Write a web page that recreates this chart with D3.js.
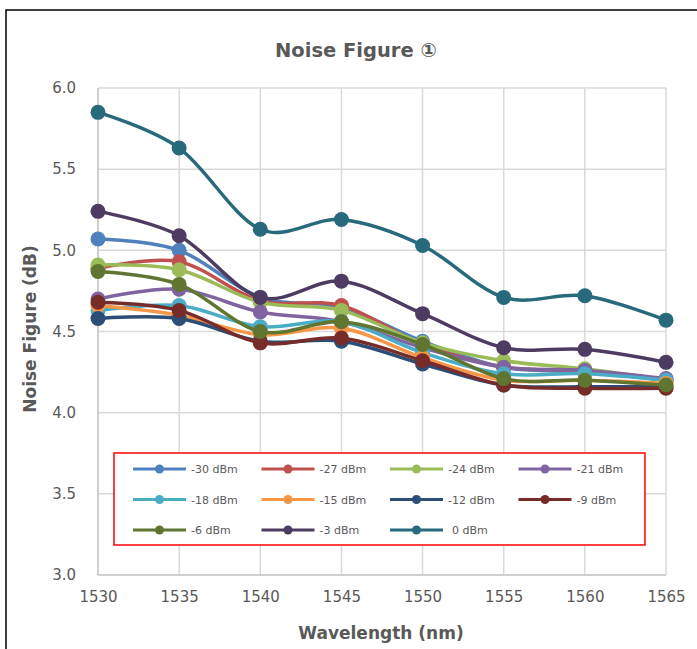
<!DOCTYPE html>
<html><head><meta charset="utf-8">
<script src="https://cdn.jsdelivr.net/npm/d3@7"></script>
<style>html,body{margin:0;padding:0;background:#fff;} svg{display:block;}</style>
</head><body>
<svg id="chart" width="697" height="649"></svg>
<script>
const wavelengths = [1530, 1535, 1540, 1545, 1550, 1555, 1560, 1565];
const seriesNames = ["-30 dBm","-27 dBm","-24 dBm","-21 dBm","-18 dBm","-15 dBm","-12 dBm","-9 dBm","-6 dBm","-3 dBm","0 dBm"];
const seriesColors = ["#4F81BD","#C0504D","#9BBB59","#8064A2","#4BACC6","#F79646","#2C4D75","#772C2A","#5F7530","#4D3B62","#276A7C"];
const nf_m30 = [5.07, 5.00, 4.71, 4.65, 4.44, 4.28, 4.25, 4.20];
const nf_m27 = [4.89, 4.93, 4.69, 4.66, 4.42, 4.28, 4.26, 4.20];
const nf_m24 = [4.91, 4.88, 4.68, 4.63, 4.43, 4.32, 4.27, 4.20];
const nf_m21 = [4.70, 4.76, 4.62, 4.56, 4.40, 4.28, 4.26, 4.21];
const nf_m18 = [4.63, 4.66, 4.53, 4.56, 4.37, 4.24, 4.24, 4.20];
const nf_m15 = [4.66, 4.60, 4.48, 4.52, 4.34, 4.20, 4.20, 4.18];
const nf_m12 = [4.58, 4.58, 4.44, 4.44, 4.30, 4.17, 4.16, 4.16];
const nf_m9  = [4.68, 4.63, 4.43, 4.46, 4.32, 4.17, 4.15, 4.15];
const nf_m6  = [4.87, 4.79, 4.50, 4.56, 4.42, 4.21, 4.20, 4.17];
const nf_m3  = [5.24, 5.09, 4.71, 4.81, 4.61, 4.40, 4.39, 4.31];
const nf_0   = [5.85, 5.63, 5.13, 5.19, 5.03, 4.71, 4.72, 4.57];
const seriesValues = [nf_m30, nf_m27, nf_m24, nf_m21, nf_m18, nf_m15, nf_m12, nf_m9, nf_m6, nf_m3, nf_0];
const yTicks = [3.0, 3.5, 4.0, 4.5, 5.0, 5.5, 6.0];

const svg = d3.select("#chart");
const font = "'DejaVu Sans', Verdana, sans-serif";
const textColor = "#595959";

// outer border
svg.append("rect").attr("x", 6).attr("y", 10).attr("width", 720).attr("height", 700)
  .attr("fill", "#fff").attr("stroke", "#000").attr("stroke-width", 1.5);

const L = 98, R = 666, T = 88, B = 575;
const x = d3.scaleLinear().domain([1530, 1565]).range([L, R]);
const y = d3.scaleLinear().domain([3, 6]).range([B, T]);

// gridlines
const g = svg.append("g");
g.selectAll(".hg").data(yTicks.slice(1)).join("line")
  .attr("x1", L).attr("x2", R).attr("y1", d => y(d)).attr("y2", d => y(d))
  .attr("stroke", "#D9D9D9").attr("stroke-width", 1.5);
g.selectAll(".vg").data(wavelengths.slice(1)).join("line")
  .attr("x1", d => x(d)).attr("x2", d => x(d)).attr("y1", T).attr("y2", B)
  .attr("stroke", "#D9D9D9").attr("stroke-width", 1.5);
g.append("line").attr("x1", L).attr("x2", L).attr("y1", T).attr("y2", B).attr("stroke", "#BFBFBF").attr("stroke-width", 1.5);
g.append("line").attr("x1", L).attr("x2", R).attr("y1", B).attr("y2", B).attr("stroke", "#BFBFBF").attr("stroke-width", 1.5);

// tick labels via d3 axes
const yAxis = d3.axisLeft(y).tickValues(yTicks).tickFormat(d3.format(".1f")).tickSize(0).tickPadding(22);
const yg = svg.append("g").attr("transform", `translate(${L},0)`).call(yAxis);
const xAxis = d3.axisBottom(x).tickValues(wavelengths).tickFormat(d3.format("d")).tickSize(0).tickPadding(16);
const xg = svg.append("g").attr("transform", `translate(0,${B})`).call(xAxis);
[yg, xg].forEach(a => {
  a.select(".domain").remove();
  a.selectAll("text").attr("font-family", font).attr("font-size", 15).attr("fill", textColor);
});

// title and axis titles
svg.append("text").attr("x", 356).attr("y", 57).attr("text-anchor", "middle")
  .attr("font-family", font).attr("font-weight", "bold").attr("font-size", 19.5).attr("fill", textColor)
  .text("Noise Figure ①");
svg.append("text").attr("x", 381).attr("y", 639).attr("text-anchor", "middle")
  .attr("font-family", font).attr("font-weight", "bold").attr("font-size", 17).attr("fill", textColor)
  .text("Wavelength (nm)");
svg.append("text").attr("transform", "translate(36,329) rotate(-90)").attr("text-anchor", "middle")
  .attr("font-family", font).attr("font-weight", "bold").attr("font-size", 17).attr("fill", textColor)
  .text("Noise Figure (dB)");

// series
const line = d3.line().x((d, i) => x(wavelengths[i])).y(d => y(d)).curve(d3.curveCatmullRom.alpha(0));
const sg = svg.append("g");
seriesValues.forEach((vals, k) => {
  const s = sg.append("g");
  s.append("path").datum(vals).attr("d", line).attr("fill", "none")
    .attr("stroke", seriesColors[k]).attr("stroke-width", 3.5).attr("stroke-linejoin", "round");
  s.selectAll("circle").data(vals).join("circle")
    .attr("cx", (d, i) => x(wavelengths[i])).attr("cy", d => y(d)).attr("r", 7.5)
    .attr("fill", seriesColors[k]);
});

// legend
const lg = svg.append("g");
lg.append("rect").attr("x", 114).attr("y", 453).attr("width", 531).attr("height", 92)
  .attr("fill", "#fff").attr("stroke", "#FF0000").attr("stroke-width", 1.5);
seriesNames.forEach((name, k) => {
  const col = k % 4, row = Math.floor(k / 4);
  const lx = 133 + col * 128.5, ly = 469 + row * 30.5;
  lg.append("line").attr("x1", lx).attr("x2", lx + 53).attr("y1", ly).attr("y2", ly)
    .attr("stroke", seriesColors[k]).attr("stroke-width", 3);
  lg.append("circle").attr("cx", lx + 26.5).attr("cy", ly).attr("r", 4.5).attr("fill", seriesColors[k]);
  lg.append("text").attr("x", lx + (name === "0 dBm" ? 62 : 58)).attr("y", ly + 4)
    .attr("font-family", font).attr("font-size", 11).attr("fill", textColor).text(name);
});
</script>
</body></html>
